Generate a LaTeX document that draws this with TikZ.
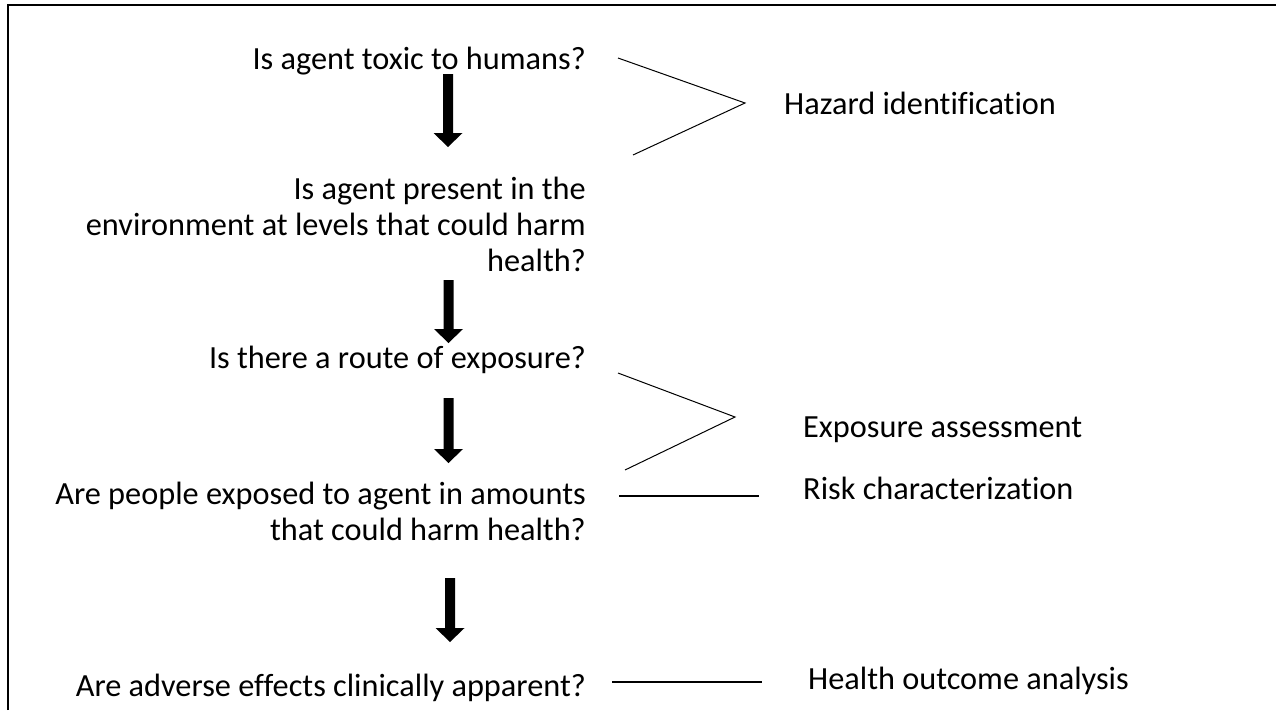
\documentclass[tikz,border=0pt]{standalone}
\usepackage{fontspec}
\setmainfont{Carlito}[Ligatures=NoCommon]
\begin{document}
\begin{tikzpicture}[x=1pt,y=-1pt,
  q/.style={anchor=east,align=right,inner sep=0pt,font=\fontsize{32.3}{36}\selectfont},
  lab/.style={anchor=west,inner sep=0pt,font=\fontsize{32.3}{36}\selectfont},
  brk/.style={line width=1pt},
  hl/.style={line width=1.6pt},
  blockarrow/.pic={\fill (-5,0) -- (5,0) -- (5,#1-14) -- (14.5,#1-14) -- (0,#1) -- (-14.5,#1-14) -- (-5,#1-14) -- cycle;}
]
\useasboundingbox (0,0) rectangle (1276,710);
\draw[line width=2pt] (8,710) -- (8,5) -- (1276,5);

\node[q] (t1) at (586,61) {Is agent toxic to humans?};
\node[q] (t2) at (586,224) {Is agent present in the\\environment at levels that could harm\\health?};
\node[q] (t3) at (586,360) {Is there a route of exposure?};
\node[q] (t4) at (586,511) {Are people exposed to agent in amounts\\that could harm health?};
\node[q] (t5) at (586,688) {Are adverse effects clinically apparent?};

\node[lab] (l1) at (784,103) {Hazard identification};
\node[lab] (l2) at (803,430) {Exposure assessment};
\node[lab] (l3) at (803,488) {Risk characterization};
\node[lab] (l4) at (808,681) {Health outcome analysis};

\pic at (448,74) {blockarrow=73};
\pic at (448.5,280) {blockarrow=63};
\pic at (448.5,398) {blockarrow=65};
\pic at (450,578) {blockarrow=64};

\coordinate (b1a) at (618,58);
\coordinate (b1b) at (745,103);
\coordinate (b1c) at (633,155);
\draw[brk] (b1a) -- (b1b) -- (b1c);
\coordinate (b2a) at (618,373);
\coordinate (b2b) at (735,417);
\coordinate (b2c) at (625,470);
\draw[brk] (b2a) -- (b2b) -- (b2c);

\coordinate (h1a) at (619,496);
\coordinate (h1b) at (759,496);
\draw[hl] (h1a) -- (h1b);
\coordinate (h2a) at (612,682);
\coordinate (h2b) at (762,682);
\draw[hl] (h2a) -- (h2b);
\end{tikzpicture}
\end{document}
